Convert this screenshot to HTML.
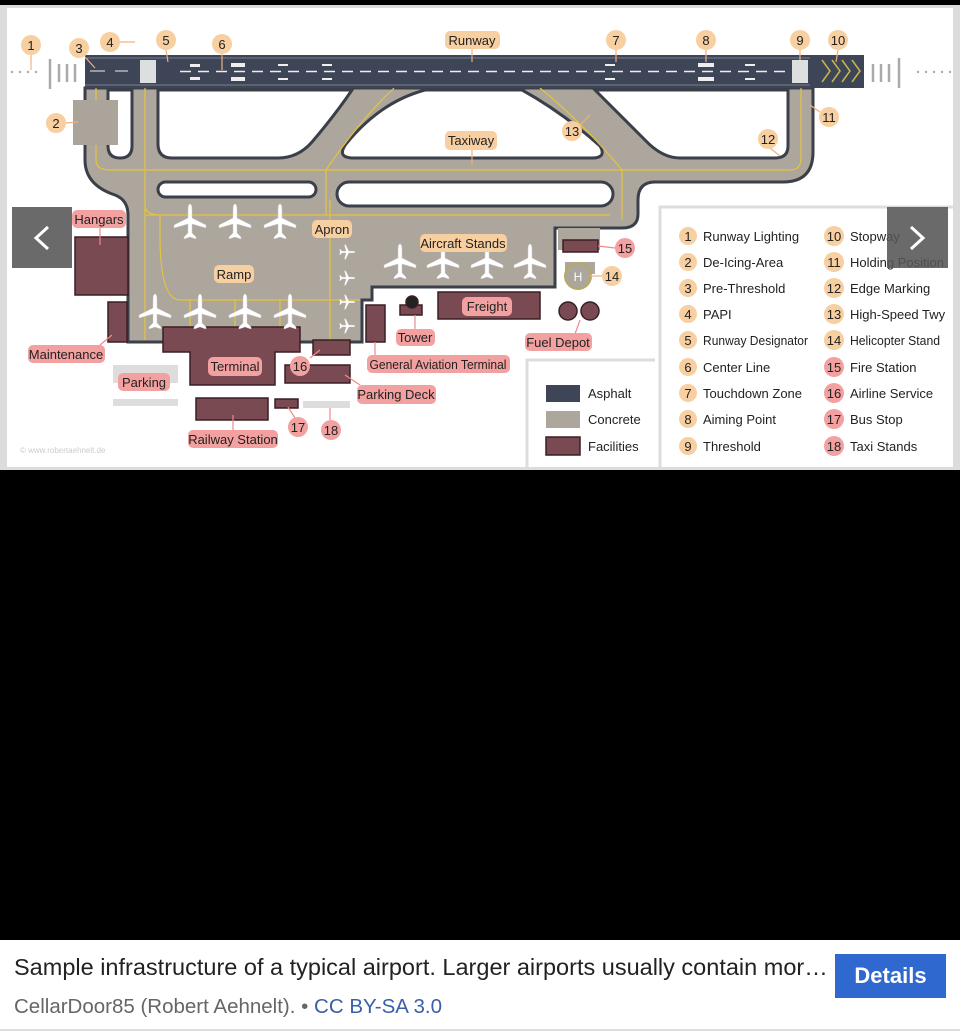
<!DOCTYPE html>
<html><head><meta charset="utf-8"><style>
html,body{margin:0;padding:0;background:#000;width:960px;height:1033px;overflow:hidden;font-family:"Liberation Sans",sans-serif}
#cap{position:absolute;left:0;top:940px;width:960px;height:93px;background:#fff}
</style></head><body>
<svg width="960" height="470" viewBox="0 0 960 470" style="position:absolute;left:0;top:0" font-family="Liberation Sans, sans-serif">
<rect x="0" y="0" width="960" height="5" fill="#000"/>
<rect x="0" y="5" width="960" height="465" fill="#dcdcdc"/>
<rect x="7" y="8" width="946" height="459" fill="#fff"/>
<!-- lighting -->
<g fill="#aaa"><circle cx="12" cy="72" r="1.2"/><circle cx="20" cy="72" r="1.2"/><circle cx="28" cy="72" r="1.2"/><circle cx="36" cy="72" r="1.2"/>
<circle cx="918" cy="72" r="1.2"/><circle cx="926" cy="72" r="1.2"/><circle cx="934" cy="72" r="1.2"/><circle cx="942" cy="72" r="1.2"/><circle cx="950" cy="72" r="1.2"/></g>
<g stroke="#aaa" stroke-width="2.5"><line x1="50" y1="59" x2="50" y2="89"/><line x1="59" y1="64" x2="59" y2="82"/><line x1="67" y1="64" x2="67" y2="82"/><line x1="75" y1="64" x2="75" y2="82"/>
<line x1="873" y1="64" x2="873" y2="82"/><line x1="881" y1="64" x2="881" y2="82"/><line x1="889" y1="64" x2="889" y2="82"/><line x1="899" y1="58" x2="899" y2="88"/></g>
<!-- concrete -->
<path d="M85,88 H813 V152 Q813,182 783,182 H655 Q638,182 638,200 V214 Q638,228 622,228 H555 V287 H372 V300 H362 V342 H128 V300 H128 V215 Q128,200 115,195 Q85,185 85,160 Z" fill="#aca69d" stroke="#3a3f4a" stroke-width="3"/>
<rect x="558" y="228" width="42" height="22" fill="#aca69d"/>
<rect x="565" y="262" width="30" height="12" fill="#aca69d"/>
<!-- islands -->
<g fill="#fff" stroke="#3a3f4a" stroke-width="3">
<path d="M108,90 H132 V146 Q132,158 120,158 Q108,158 108,146 Z"/>
<path d="M158,90 H352 Q335,115 312,142 Q298,158 278,158 H172 Q158,158 158,144 Z"/>
<path d="M425,90 H522 Q562,112 600,146 Q607,158 592,158 H354 Q336,158 346,144 Q380,102 425,90 Z"/>
<path d="M595,90 H788 V146 Q788,158 775,158 H680 Q662,158 645,140 Z"/>
<rect x="158" y="182" width="158" height="15" rx="7.5"/>
<rect x="337" y="182" width="276" height="24" rx="12"/>
</g>
<!-- yellow lines -->
<g stroke="#e6c43a" stroke-width="1.2" fill="none">
<path d="M96,88 V160 Q96,170 110,170 H790 Q801,170 801,158 V88"/>
<path d="M145,88 V340"/><path d="M326,170 V215 M622,170 V220"/>
<path d="M394,88 Q360,120 326,170"/><path d="M540,88 Q585,125 622,170"/>
<path d="M145,215 H610"/><path d="M145,205 Q145,215 160,215"/>
<path d="M160,215 V235 Q160,300 180,300 H360"/>
<path d="M235,300 V340 M190,300 V340 M280,300 V340 M330,200 V340"/>
</g>
<!-- runway -->
<rect x="85" y="55" width="779" height="33" fill="#3d4556"/>
<g stroke="#c8b64a" stroke-width="1.5" fill="none"><path d="M822,60 l8,11 l-8,11 M832,60 l8,11 l-8,11 M842,60 l8,11 l-8,11 M852,60 l8,11 l-8,11"/></g>
<line x1="85" y1="58" x2="810" y2="58" stroke="#8a92a4" stroke-width="0.8"/>
<line x1="85" y1="85" x2="810" y2="85" stroke="#8a92a4" stroke-width="0.8"/>
<line x1="180" y1="71.5" x2="785" y2="71.5" stroke="#eee" stroke-width="1.4" stroke-dasharray="11,7"/>
<g fill="#eee"><rect x="140" y="60" width="16" height="23" opacity=".9"/><rect x="792" y="60" width="16" height="23" opacity=".9"/>
<rect x="190" y="64" width="10" height="3"/><rect x="190" y="77" width="10" height="3"/>
<rect x="231" y="63" width="14" height="4"/><rect x="231" y="77" width="14" height="4"/>
<rect x="278" y="64" width="10" height="2"/><rect x="278" y="78" width="10" height="2"/>
<rect x="322" y="64" width="10" height="2"/><rect x="322" y="78" width="10" height="2"/>
<rect x="605" y="64" width="10" height="2"/><rect x="605" y="78" width="10" height="2"/>
<rect x="698" y="63" width="16" height="4"/><rect x="698" y="77" width="16" height="4"/>
<rect x="745" y="64" width="10" height="2"/><rect x="745" y="78" width="10" height="2"/></g>
<path d="M90,71 H105 M115,71 H128" stroke="#ccc" stroke-width="1.2"/>
<!-- de-icing -->
<rect x="73" y="100" width="45" height="45" fill="#aaa49b"/>
<!-- buildings -->
<g fill="#7a4a52" stroke="#3a1f25" stroke-width="1.5">
<rect x="75" y="237" width="53" height="58"/><rect x="108" y="302" width="19" height="40"/>
<path d="M163,327 H300 V352 H275 V385 H190 V352 H163 Z"/>
<rect x="313" y="340" width="37" height="15"/><rect x="285" y="365" width="65" height="18"/>
<rect x="366" y="305" width="19" height="37"/><rect x="438" y="292" width="102" height="27"/>
<rect x="196" y="398" width="72" height="22"/><rect x="275" y="399" width="23" height="9"/>
<rect x="563" y="240" width="35" height="12"/>
<circle cx="568" cy="311" r="9"/><circle cx="590" cy="311" r="9"/>
<rect x="400" y="305" width="22" height="10"/><circle cx="412" cy="302" r="6" fill="#222"/>
</g>
<g fill="#ddd"><rect x="113" y="365" width="65" height="18"/><rect x="113" y="399" width="65" height="7"/><rect x="303" y="401" width="47" height="7"/></g>
<circle cx="578" cy="276" r="13" fill="#aca69d" stroke="#b6aa60" stroke-width="2"/>
<text x="578" y="281" font-size="12" fill="#fff" text-anchor="middle">H</text>
<!-- planes -->
<defs><g id="pl"><path d="M0,-18 Q2,-18 2,-12 V-4 L16,3 V6 L2,2 V11 L6,15 V17 L0,15 L-6,17 V15 L-2,11 V2 L-16,6 V3 L-2,-4 V-12 Q-2,-18 0,-18Z" fill="#fff" stroke="#ccc" stroke-width=".5"/></g></defs>
<use href="#pl" x="190" y="222"/><use href="#pl" x="235" y="222"/><use href="#pl" x="280" y="222"/>
<use href="#pl" x="155" y="312"/><use href="#pl" x="200" y="312"/><use href="#pl" x="245" y="312"/><use href="#pl" x="290" y="312"/>
<use href="#pl" x="400" y="262"/><use href="#pl" x="443" y="262"/><use href="#pl" x="487" y="262"/><use href="#pl" x="530" y="262"/>
<g transform="translate(347,252) rotate(90) scale(.45)"><use href="#pl"/></g>
<g transform="translate(347,278) rotate(90) scale(.45)"><use href="#pl"/></g>
<g transform="translate(347,302) rotate(90) scale(.45)"><use href="#pl"/></g>
<g transform="translate(347,326) rotate(90) scale(.45)"><use href="#pl"/></g>
<!-- pointer lines -->
<g stroke="#f2b07a" stroke-width="1.2"><line x1="31" y1="55" x2="31" y2="70"/><line x1="85" y1="57" x2="95" y2="68"/><line x1="120" y1="42" x2="135" y2="42"/><line x1="166" y1="50" x2="168" y2="62"/><line x1="222" y1="54" x2="222" y2="70"/><line x1="616" y1="50" x2="616" y2="62"/><line x1="706" y1="50" x2="706" y2="62"/><line x1="800" y1="50" x2="800" y2="60"/><line x1="838" y1="50" x2="836" y2="62"/><line x1="66" y1="123" x2="78" y2="122"/><line x1="820" y1="112" x2="810" y2="105"/><line x1="770" y1="148" x2="780" y2="156"/><line x1="580" y1="125" x2="590" y2="115"/><line x1="472" y1="49" x2="472" y2="62"/><line x1="472" y1="150" x2="472" y2="165"/><line x1="602" y1="276" x2="590" y2="276"/></g>
<g stroke="#f08a8a" stroke-width="1.2"><line x1="100" y1="228" x2="100" y2="245"/><line x1="100" y1="345" x2="112" y2="335"/><line x1="234" y1="376" x2="234" y2="360"/><line x1="310" y1="358" x2="320" y2="350"/><line x1="360" y1="385" x2="345" y2="375"/><line x1="375" y1="356" x2="375" y2="342"/><line x1="415" y1="329" x2="415" y2="315"/><line x1="575" y1="334" x2="580" y2="320"/><line x1="615" y1="248" x2="598" y2="246"/><line x1="233" y1="430" x2="233" y2="415"/><line x1="295" y1="418" x2="288" y2="407"/><line x1="330" y1="420" x2="330" y2="408"/></g>
<!-- peach labels -->
<g fill="#f7cfa0"><circle cx="31" cy="45" r="10"/><circle cx="79" cy="48" r="10"/><circle cx="110" cy="42" r="10"/><circle cx="166" cy="40" r="10"/><circle cx="222" cy="44" r="10"/><circle cx="616" cy="40" r="10"/><circle cx="706" cy="40" r="10"/><circle cx="800" cy="40" r="10"/><circle cx="838" cy="40" r="10"/><circle cx="56" cy="123" r="10"/><circle cx="829" cy="117" r="10"/><circle cx="768" cy="139" r="10"/><circle cx="572" cy="131" r="10"/><circle cx="612" cy="276" r="10"/>
<rect x="445" y="31" width="55" height="18" rx="5"/><rect x="445" y="131" width="52" height="19" rx="5"/><rect x="312" y="220" width="40" height="18" rx="5"/><rect x="214" y="265" width="40" height="18" rx="5"/><rect x="420" y="234" width="87" height="18" rx="5"/></g>
<g fill="#f3a0a0"><rect x="72" y="210" width="54" height="18" rx="5"/><rect x="28" y="345" width="77" height="18" rx="5"/><rect x="208" y="357" width="54" height="19" rx="5"/><circle cx="300" cy="366" r="10"/><rect x="357" y="385" width="79" height="19" rx="5"/><rect x="367" y="355" width="143" height="18" rx="5"/><rect x="396" y="329" width="39" height="17" rx="5"/><rect x="462" y="297" width="50" height="19" rx="5"/><rect x="525" y="333" width="67" height="18" rx="5"/><circle cx="625" cy="248" r="10"/><rect x="118" y="373" width="52" height="18" rx="5"/><rect x="188" y="430" width="90" height="18" rx="5"/><circle cx="298" cy="427" r="10"/><circle cx="331" cy="430" r="10"/></g>
<g font-size="13" fill="#222" text-anchor="middle">
<text x="31" y="50">1</text><text x="79" y="53">3</text><text x="110" y="47">4</text><text x="166" y="45">5</text><text x="222" y="49">6</text><text x="616" y="45">7</text><text x="706" y="45">8</text><text x="800" y="45">9</text><text x="838" y="45">10</text><text x="56" y="128">2</text><text x="829" y="122">11</text><text x="768" y="144">12</text><text x="572" y="136">13</text><text x="612" y="281">14</text>
<text x="472" y="45">Runway</text><text x="471" y="145">Taxiway</text><text x="332" y="234">Apron</text><text x="234" y="279">Ramp</text><text x="463" y="248">Aircraft Stands</text>
<text x="99" y="224">Hangars</text><text x="66" y="359">Maintenance</text><text x="235" y="371">Terminal</text><text x="300" y="371">16</text><text x="396" y="399">Parking Deck</text><text x="438" y="369" textLength="137" lengthAdjust="spacingAndGlyphs">General Aviation Terminal</text><text x="415" y="342">Tower</text><text x="487" y="311">Freight</text><text x="558" y="347">Fuel Depot</text><text x="625" y="253">15</text><text x="144" y="387">Parking</text><text x="233" y="444">Railway Station</text><text x="298" y="432">17</text><text x="331" y="435">18</text>
</g>
<text x="20" y="453" font-size="8" fill="#ccc">© www.robertaehnelt.de</text>
<!-- legends -->
<path d="M527,467 V360 H655" fill="none" stroke="#ddd" stroke-width="3"/>
<path d="M660,467 V207 H953" fill="none" stroke="#ddd" stroke-width="3"/>
<rect x="546" y="385" width="34" height="17" fill="#3d4556"/>
<rect x="546" y="411" width="34" height="17" fill="#aca69d"/>
<rect x="546" y="437" width="34" height="18" fill="#7a4a52" stroke="#3a1f25" stroke-width="1.5"/>
<g font-size="13" fill="#222"><text x="588" y="398">Asphalt</text><text x="588" y="424">Concrete</text><text x="588" y="451">Facilities</text></g>
<g fill="#f7cfa0"><circle cx="688" cy="236" r="9"/><circle cx="688" cy="262" r="9"/><circle cx="688" cy="288" r="9"/><circle cx="688" cy="314" r="9"/><circle cx="688" cy="340" r="9"/><circle cx="688" cy="367" r="9"/><circle cx="688" cy="393" r="9"/><circle cx="688" cy="419" r="9"/><circle cx="688" cy="446" r="9"/>
<circle cx="834" cy="236" r="10"/><circle cx="834" cy="262" r="10"/><circle cx="834" cy="288" r="10"/><circle cx="834" cy="314" r="10"/><circle cx="834" cy="340" r="10"/></g>
<g fill="#f3a0a0"><circle cx="834" cy="367" r="10"/><circle cx="834" cy="393" r="10"/><circle cx="834" cy="419" r="10"/><circle cx="834" cy="446" r="10"/></g>
<g font-size="13" fill="#222">
<g text-anchor="middle"><text x="688" y="241">1</text><text x="688" y="267">2</text><text x="688" y="293">3</text><text x="688" y="319">4</text><text x="688" y="345">5</text><text x="688" y="372">6</text><text x="688" y="398">7</text><text x="688" y="424">8</text><text x="688" y="451">9</text>
<text x="834" y="241">10</text><text x="834" y="267">11</text><text x="834" y="293">12</text><text x="834" y="319">13</text><text x="834" y="345">14</text><text x="834" y="372">15</text><text x="834" y="398">16</text><text x="834" y="424">17</text><text x="834" y="451">18</text></g>
<text x="703" y="241">Runway Lighting</text><text x="703" y="267">De-Icing-Area</text><text x="703" y="293">Pre-Threshold</text><text x="703" y="319">PAPI</text><text x="703" y="345" textLength="105" lengthAdjust="spacingAndGlyphs">Runway Designator</text><text x="703" y="372">Center Line</text><text x="703" y="398">Touchdown Zone</text><text x="703" y="424">Aiming Point</text><text x="703" y="451">Threshold</text>
<text x="850" y="241">Stopway</text><text x="850" y="267">Holding Position</text><text x="850" y="293">Edge Marking</text><text x="850" y="319">High-Speed Twy</text><text x="850" y="345" textLength="90" lengthAdjust="spacingAndGlyphs">Helicopter Stand</text><text x="850" y="372">Fire Station</text><text x="850" y="398">Airline Service</text><text x="850" y="424">Bus Stop</text><text x="850" y="451">Taxi Stands</text>
</g>
<!-- nav -->
<rect x="12" y="207" width="60" height="61" fill="#555" opacity=".88"/>
<rect x="887" y="207" width="61" height="61" fill="#555" opacity=".88"/>
<path d="M48,227 L36,238 L48,249" fill="none" stroke="#fff" stroke-width="3"/>
<path d="M911,227 L923,238 L911,249" fill="none" stroke="#fff" stroke-width="3"/>
</svg>
<div id="cap">
<div style="position:absolute;left:14px;top:14px;font-size:23.5px;color:#222;white-space:nowrap">Sample infrastructure of a typical airport. Larger airports usually contain mor…</div>
<div style="position:absolute;left:14px;top:55px;font-size:20.5px;color:#666;white-space:nowrap">CellarDoor85 (Robert Aehnelt). • <span style="color:#3a5fa8">CC BY-SA 3.0</span></div>
<div style="position:absolute;left:835px;top:14px;width:111px;height:44px;background:#2f68cf;color:#fff;font-weight:bold;font-size:22px;line-height:44px;text-align:center">Details</div>
<div style="position:absolute;left:0;top:89px;width:960px;height:2px;background:#ddd"></div>
</div>
</body></html>
